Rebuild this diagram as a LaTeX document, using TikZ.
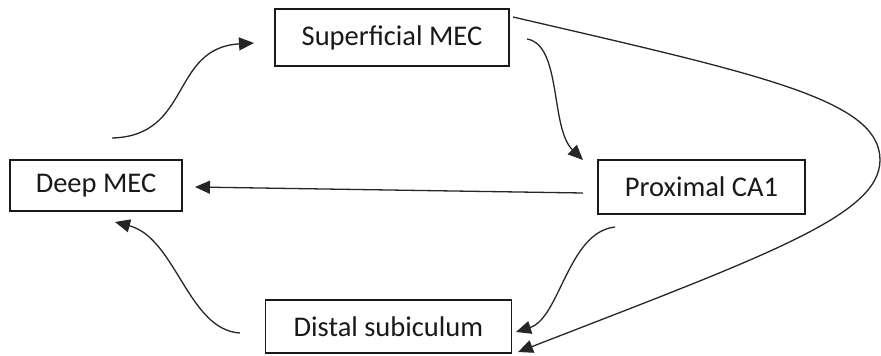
\documentclass[tikz,border=0pt]{standalone}
\usepackage{fontspec}
\setmainfont{Carlito}
\usetikzlibrary{arrows.meta}
\begin{document}
\begin{tikzpicture}[x=1pt,y=-1pt,
  box/.style={draw=black!90, line width=1.4pt, inner sep=0pt, font=\fontsize{28.5}{32}\selectfont, text=black!90},
  conn/.style={line width=1.3pt, draw=black!85, -{Triangle[length=15pt,width=13pt]}}]
\useasboundingbox (0,0) rectangle (881,356);
\node[box, minimum width=234pt, minimum height=57pt] (sup) at (392,37.5) {Superficial MEC\hspace{6pt}};
\node[box, minimum width=172pt, minimum height=51pt] (deep) at (96,185.5) {Deep MEC\hspace{4pt}};
\node[box, minimum width=207pt, minimum height=54pt] (prox) at (701.5,187) {Proximal CA1\hspace{6pt}};
\node[box, minimum width=246pt, minimum height=53pt] (dist) at (388.5,326.5) {Distal subiculum\hspace{10pt}};
% free ends
\coordinate (a1s) at (112,138);
\coordinate (a1e) at (254,43);
\coordinate (a2s) at (527,39);
\coordinate (a2e) at (583,160);
\coordinate (a3s) at (583,193);
\coordinate (a3e) at (195,187);
\coordinate (a4s) at (615,227);
\coordinate (a4e) at (516,332);
\coordinate (a5s) at (513,17);
\coordinate (a5m) at (880,160);
\coordinate (a5e) at (518,352);
\coordinate (a6s) at (240,333);
\coordinate (a6e) at (115,222);
\draw[conn] (a1s) .. controls (192,136) and (170,48) .. (a1e);
\draw[conn] (a2s) .. controls (562,45) and (550,128) .. (a2e);
\draw[conn] (a3s) -- (a3e);
\draw[conn] (a4s) .. controls (568,232) and (560,318) .. (a4e);
\draw[conn] (a5s) .. controls (763,75) and (880,100) .. (a5m) .. controls (880,215) and (768,255) .. (a5e);
\draw[conn] (a6s) .. controls (188,330) and (176,238) .. (a6e);
\end{tikzpicture}
\end{document}
